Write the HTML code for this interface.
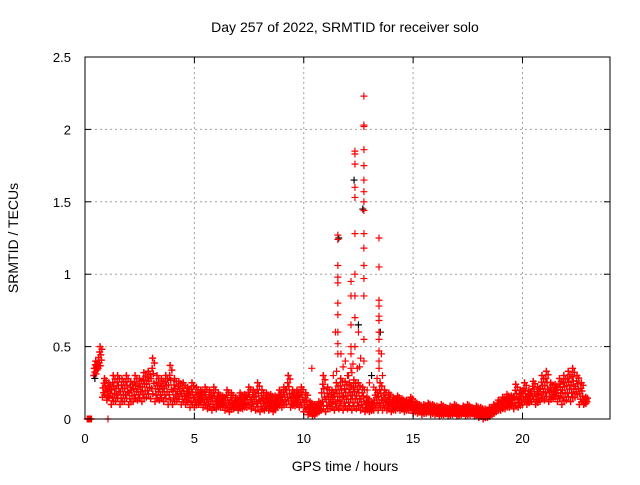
<!DOCTYPE html>
<html><head><meta charset="utf-8"><style>
body{margin:0;background:#fff;}
svg text{font-family:"Liberation Sans",sans-serif;fill:#000;}
</style></head><body>
<svg id="chart" width="640" height="480" xmlns="http://www.w3.org/2000/svg">
<rect width="640" height="480" fill="#fff"/>
<text x="345" y="32" font-size="14" text-anchor="middle">Day 257 of 2022, SRMTID for receiver solo</text>
<text x="345" y="471" font-size="14" text-anchor="middle">GPS time / hours</text>
<text transform="translate(18,238) rotate(-90)" font-size="14" text-anchor="middle">SRMTID / TECUs</text>
<g id="grid"></g>
<g id="marks"></g>
<rect x="85" y="57" width="525" height="362" fill="none" stroke="#000" stroke-width="1"/>
<g id="ticks"></g>
</svg>
<script>
const xTicks=[0,5,10,15,20];
const yTicks=[0,0.5,1,1.5,2,2.5];
const yTickLabels=["0","0.5","1","1.5","2","2.5"];
const bandStart=0.4, bandStep=0.2;
const bandLo=[.3,.35,.15,.13,.1,.12,.1,.12,.1,.12,.13,.12,.15,.14,.12,.13,.12,.1,.1,.12,.1,.1,.08,.08,.1,.08,.07,.06,.07,.08,.06,.05,.07,.06,.07,.08,.07,.06,.05,.06,.06,.05,.08,.08,.1,.08,.09,.08,.05,.03,.02,.04,.06,.05,.07,.06,.07,.06,.07,.06,.07,.06,.05,.05,.06,.06,.06,.06,.05,.06,.06,.05,.06,.04,.04,.03,.04,.03,.03,.02,.03,.02,.03,.02,.03,.02,.03,.02,.01,0,.01,.03,.05,.06,.07,.08,.07,.08,.1,.1,.12,.1,.12,.13,.12,.14,.12,.1,.13,.12,.15,.1,.1];
const bandHi=[.4,.5,.28,.25,.3,.3,.28,.3,.26,.3,.28,.32,.33,.42,.3,.28,.3,.37,.28,.26,.25,.22,.25,.22,.2,.22,.2,.22,.18,.16,.2,.18,.15,.18,.17,.22,.2,.25,.2,.18,.17,.16,.2,.22,.3,.2,.2,.22,.18,.12,.1,.12,.3,.22,.2,.25,.28,.26,.25,.27,.25,.22,.15,.12,.2,.25,.2,.18,.15,.16,.14,.13,.15,.12,.1,.1,.11,.1,.09,.1,.08,.09,.1,.08,.09,.1,.08,.09,.08,.07,.08,.1,.13,.15,.17,.16,.24,.2,.25,.2,.26,.22,.3,.33,.25,.24,.28,.3,.33,.35,.3,.25,.15];
const spikeT=[0.1,0.13,0.16,0.2,0.23,0.26,0.3,1.05,10.37,
12.75,12.75,12.75,12.75,12.75,12.75,12.75,12.75,12.75,12.75,12.75,12.75,12.75,12.75,12.75,12.75,
12.34,12.34,12.34,12.34,12.34,12.34,12.34,12.34,12.34,12.34,
11.56,11.56,11.56,11.56,11.56,11.56,11.56,11.56,11.56,11.56,
12.16,12.16,12.16,12.16,12.16,12.16,
13.44,13.44,13.44,13.44,13.44,13.44,13.44,13.44,13.44,13.44,13.44,
11.45,11.7,11.9,12.0,12.5,12.6,13.0,13.2,13.55,13.6,11.5,11.8,12.05,12.25,12.45,12.9,13.35,11.35,12.2,12.55];
const spikeV=[0,0,0,0,0,0,0,0,0.35,
2.23,2.03,2.02,1.86,1.75,1.65,1.57,1.5,1.44,1.28,1.18,1.06,0.97,0.85,0.55,0.4,
1.85,1.83,1.76,1.6,1.53,1.28,1.0,0.85,0.7,0.5,
1.27,1.24,1.06,0.98,0.94,0.8,0.72,0.6,0.52,0.45,
0.95,0.85,0.65,0.5,0.45,0.35,
1.25,1.05,0.82,0.78,0.71,0.68,0.6,0.55,0.47,0.4,0.35,
0.6,0.45,0.4,0.3,0.6,0.42,0.25,0.22,0.45,0.3,0.33,0.36,0.3,0.38,0.35,0.2,0.28,0.3,0.32,0.36];
const blackT=[0.45,12.7,12.3,11.6,13.5,12.5,13.1];
const blackV=[0.28,1.45,1.65,1.25,0.6,0.65,0.3];
const NS="http://www.w3.org/2000/svg";
const X0=85,X1=610,Y0=419,Y1=57,XMAX=24,YMAX=2.5;
function sx(t){return X0+t/XMAX*(X1-X0);}
function sy(v){return Y0-v/YMAX*(Y0-Y1);}
function mk(tag,attrs,parent){const e=document.createElementNS(NS,tag);for(const k in attrs)e.setAttribute(k,attrs[k]);parent.appendChild(e);return e;}
const grid=document.getElementById('grid'),ticks=document.getElementById('ticks');
xTicks.forEach((t,i)=>{
  if(t>0){const g=mk('line',{x1:sx(t),x2:sx(t),y1:Y1,y2:Y0,stroke:'#a0a0a0','stroke-dasharray':'2,3'},grid);
  
  }
  const a=mk('line',{x1:sx(t),x2:sx(t),y1:Y0,y2:Y0-6,stroke:'#000'},ticks);
  
  
  const b=mk('line',{x1:sx(t),x2:sx(t),y1:Y1,y2:Y1+6,stroke:'#000'},ticks);
  
  
  const tx=mk('text',{x:sx(t),y:443,'font-size':13,'text-anchor':'middle'},ticks);tx.textContent=String(t);
  
  
});
yTicks.forEach((v,i)=>{
  if(v>0&&v<YMAX){const g=mk('line',{x1:X0,x2:X1,y1:sy(v),y2:sy(v),stroke:'#a0a0a0','stroke-dasharray':'2,3'},grid);
  
  }
  const a=mk('line',{x1:X0,x2:X0+6,y1:sy(v),y2:sy(v),stroke:'#000'},ticks);
  
  
  const b=mk('line',{x1:X1,x2:X1-6,y1:sy(v),y2:sy(v),stroke:'#000'},ticks);
  
  
  const tx=mk('text',{x:71,y:sy(v)+5,'font-size':13,'text-anchor':'end'},ticks);tx.textContent=yTickLabels[i];
  
  
});
const marks=document.getElementById('marks');
function cross(t,v,col,name,w){
  const x=sx(t),y=sy(v);
  const p=mk('path',{d:`M${x-3.5},${y}H${x+3.5}M${x},${y-3.5}V${y+3.5}`,stroke:col,'stroke-width':w||1.2,fill:'none'},marks);
  
  
}
const fracs=[0,0.12,0.25,0.38,0.5,0.62,0.75,0.88,1];
const offs=[0,0.1,0.05,0.15,0.02,0.12,0.07,0.17,0.09];
bandLo.forEach((lo,i)=>{
  const t=bandStart+i*bandStep, hi=bandHi[i];
  fracs.forEach((f,k)=>cross(t+offs[k],lo+(hi-lo)*f,'#ff0000','baseline-point',1.5));
});
blackT.forEach((t,i)=>cross(t,blackV[i],'#000','black-point'));
spikeT.forEach((t,i)=>cross(t,spikeV[i],'#ff0000','spike-point'));
</script>
</body></html>
